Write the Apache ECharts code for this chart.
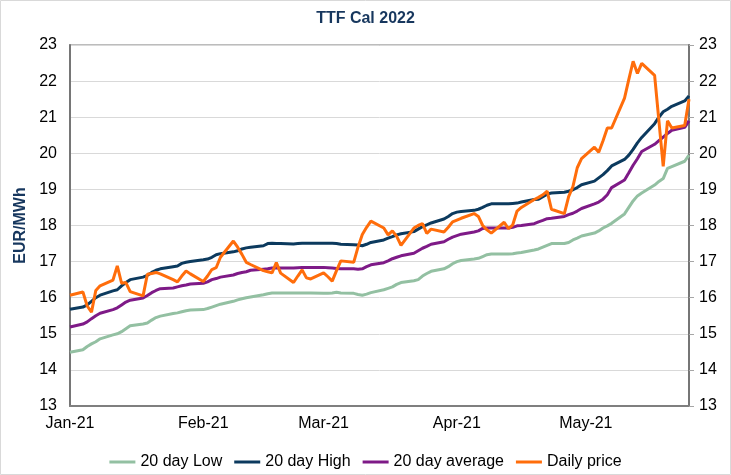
<!DOCTYPE html>
<html>
<head>
<meta charset="utf-8">
<script src="https://cdn.jsdelivr.net/npm/echarts@6/dist/echarts.min.js"></script>
<style>
  html, body { margin: 0; padding: 0; background: #fff; }
  #chart { width: 731px; height: 475px; }
</style>
</head>
<body>
<div id="chart"></div>
<script>
var dates = [
  '2021-01-01',
  '2021-01-04', '2021-01-05', '2021-01-06', '2021-01-07', '2021-01-08',
  '2021-01-11', '2021-01-12', '2021-01-13', '2021-01-14', '2021-01-15',
  '2021-01-18', '2021-01-19', '2021-01-20', '2021-01-21', '2021-01-22',
  '2021-01-25', '2021-01-26', '2021-01-27', '2021-01-28', '2021-01-29',
  '2021-02-01', '2021-02-02', '2021-02-03', '2021-02-04', '2021-02-05',
  '2021-02-08', '2021-02-09', '2021-02-10', '2021-02-11', '2021-02-12',
  '2021-02-15', '2021-02-16', '2021-02-17', '2021-02-18', '2021-02-19',
  '2021-02-22', '2021-02-23', '2021-02-24', '2021-02-25', '2021-02-26',
  '2021-03-01', '2021-03-02', '2021-03-03', '2021-03-04', '2021-03-05',
  '2021-03-08', '2021-03-09', '2021-03-10', '2021-03-11', '2021-03-12',
  '2021-03-15', '2021-03-16', '2021-03-17', '2021-03-18', '2021-03-19',
  '2021-03-22', '2021-03-23', '2021-03-24', '2021-03-25', '2021-03-26',
  '2021-03-29', '2021-03-30', '2021-03-31', '2021-04-01', '2021-04-02',
  '2021-04-05', '2021-04-06', '2021-04-07', '2021-04-08', '2021-04-09',
  '2021-04-12', '2021-04-13', '2021-04-14', '2021-04-15', '2021-04-16',
  '2021-04-19', '2021-04-20', '2021-04-21', '2021-04-22', '2021-04-23',
  '2021-04-26', '2021-04-27', '2021-04-28', '2021-04-29', '2021-04-30',
  '2021-05-03', '2021-05-04', '2021-05-05', '2021-05-06', '2021-05-07',
  '2021-05-10', '2021-05-11', '2021-05-12', '2021-05-13', '2021-05-14',
  '2021-05-17', '2021-05-18', '2021-05-19', '2021-05-20', '2021-05-21',
  '2021-05-24', '2021-05-25'
]

var low20 = [
  14.49,
  14.56, 14.65, 14.72, 14.78, 14.86,
  14.97, 15.00, 15.06, 15.14, 15.22,
  15.27, 15.30, 15.38, 15.45, 15.49,
  15.56, 15.58, 15.61, 15.64, 15.66,
  15.67, 15.70, 15.74, 15.78, 15.82,
  15.90, 15.94, 15.97, 16.00, 16.02,
  16.08, 16.11, 16.13, 16.13, 16.13,
  16.13, 16.13, 16.13, 16.13, 16.13,
  16.12, 16.12, 16.13, 16.15, 16.13,
  16.12, 16.09, 16.07, 16.10, 16.14,
  16.22, 16.26, 16.30, 16.37, 16.42,
  16.47, 16.50, 16.60, 16.67, 16.73,
  16.80, 16.86, 16.94, 17.00, 17.03,
  17.07, 17.09, 17.14, 17.19, 17.21,
  17.21, 17.21, 17.22, 17.24, 17.25,
  17.32, 17.35, 17.40, 17.45, 17.50,
  17.50, 17.53, 17.60, 17.65, 17.71,
  17.79, 17.85, 17.93, 17.99, 18.06,
  18.32, 18.50, 18.68, 18.82, 18.90,
  19.12, 19.22, 19.30, 19.58, 19.63,
  19.78, 19.95
]

var high20 = [
  15.68,
  15.74, 15.80, 15.90, 16.00, 16.07,
  16.19, 16.22, 16.33, 16.42, 16.50,
  16.57, 16.62, 16.70, 16.76, 16.80,
  16.86, 16.88, 16.95, 16.98, 17.00,
  17.05, 17.07, 17.12, 17.19, 17.22,
  17.27, 17.30, 17.35, 17.38, 17.40,
  17.44, 17.50, 17.51, 17.50, 17.50,
  17.49, 17.50, 17.51, 17.51, 17.51,
  17.51, 17.51, 17.51, 17.50, 17.48,
  17.47, 17.46, 17.44, 17.48, 17.53,
  17.60, 17.65, 17.69, 17.74, 17.77,
  17.83, 17.90, 17.97, 18.02, 18.07,
  18.18, 18.25, 18.33, 18.37, 18.39,
  18.42, 18.45, 18.50, 18.56, 18.60,
  18.60, 18.60, 18.61, 18.62, 18.65,
  18.72, 18.73, 18.80, 18.87, 18.90,
  18.92, 18.95, 18.99, 19.05, 19.13,
  19.23, 19.32, 19.41, 19.52, 19.65,
  19.83, 19.95, 20.11, 20.29, 20.44,
  20.82, 21.00, 21.15, 21.22, 21.30,
  21.45, 21.59
]

var avg20 = [
  15.19,
  15.27, 15.33, 15.42, 15.50, 15.57,
  15.67, 15.72, 15.80, 15.88, 15.93,
  15.99, 16.06, 16.14, 16.20, 16.25,
  16.27, 16.30, 16.33, 16.35, 16.38,
  16.40, 16.44, 16.50, 16.53, 16.57,
  16.63, 16.67, 16.70, 16.72, 16.76,
  16.79, 16.80, 16.82, 16.82, 16.82,
  16.82, 16.83, 16.84, 16.84, 16.84,
  16.84, 16.83, 16.82, 16.81, 16.80,
  16.80, 16.79, 16.80, 16.86, 16.91,
  16.97, 17.02, 17.08, 17.12, 17.16,
  17.23, 17.30, 17.37, 17.42, 17.48,
  17.55, 17.62, 17.68, 17.72, 17.76,
  17.82, 17.85, 17.92, 17.93, 17.93,
  17.93, 17.93, 17.95, 17.99, 18.00,
  18.05, 18.10, 18.14, 18.19, 18.20,
  18.25, 18.30, 18.34, 18.40, 18.47,
  18.60, 18.65, 18.73, 18.85, 19.05,
  19.26, 19.46, 19.67, 19.85, 20.05,
  20.25, 20.35, 20.45, 20.55, 20.64,
  20.72, 20.90
]

var dailyPrice = [
  16.07,
  16.16, 15.77, 15.60, 16.20, 16.33,
  16.49, 16.88, 16.40, 16.42, 16.17,
  16.05, 16.65, 16.67, 16.70, 16.66,
  16.50, 16.44, 16.60, 16.74, 16.66,
  16.45, 16.60, 16.78, 16.83, 17.12,
  17.57, 17.40, 17.20, 16.98, 16.92,
  16.75, 16.72, 16.69, 16.97, 16.68,
  16.42, 16.60, 16.77, 16.55, 16.52,
  16.69, 16.58, 16.46, 16.75, 17.02,
  16.98, 17.40, 17.75, 17.95, 18.12,
  17.93, 17.74, 17.85, 17.70, 17.45,
  17.93, 18.00, 18.05, 17.78, 17.90,
  17.82, 17.95, 18.10, 18.15, 18.20,
  18.33, 18.25, 18.00, 17.88, 17.79,
  18.09, 17.91, 18.02, 18.40, 18.50,
  18.72, 18.78, 18.85, 18.95, 18.45,
  18.33, 18.80, 19.08, 19.60, 19.85,
  20.17, 20.03, 20.35, 20.70, 20.70,
  21.53, 22.05, 22.55, 22.21, 22.49,
  22.16, 20.90, 19.64, 20.90, 20.70,
  20.77, 21.50
]

var monthLabels = ['2021-01-01', '2021-02-01', '2021-03-01', '2021-04-01', '2021-05-01']
var seriesNames = ['20 day Low', '20 day High', '20 day average', 'Daily price']
var seriesColors = ['#93c0a2', '#0c3a5e', '#7e1a87', '#ff6d0b']
var monthNames = ['Jan', 'Feb', 'Mar', 'Apr', 'May', 'Jun', 'Jul', 'Aug', 'Sep', 'Oct', 'Nov', 'Dec']

function toTime (s) {
  var p = s.split('-')
  return Date.UTC(+p[0], +p[1] - 1, +p[2])
}

function pairs (values) {
  return dates.map(function (d, i) {
    return [toTime(d), values[i]]
  })
}

var font = 'Liberation Sans, Arial, sans-serif'
var navy = '#17375e'

var chart = echarts.init(document.getElementById('chart'), null, {renderer: 'canvas'})

var option = {
  animation: false,
  textStyle: {fontFamily: font},
  color: seriesColors,
  title: {
    text: 'TTF Cal 2022',
    left: 'center',
    top: 11,
    padding: 0,
    textStyle: {fontSize: 16, fontWeight: 'bold', color: navy, fontFamily: font}
  },
  legend: {
    data: seriesNames,
    left: 'center',
    top: 449,
    icon: 'rect',
    itemWidth: 26,
    itemHeight: 3,
    itemGap: 12,
    textStyle: {fontSize: 16, color: '#000', fontFamily: font}
  },
  graphic: [{
    type: 'rect',
    shape: {x: 0.5, y: 0.5, width: 730, height: 474},
    style: {fill: 'none', stroke: '#d9d9d9', lineWidth: 1},
    silent: true
  }],
  grid: {
    left: 70,
    right: 42,
    top: 45,
    bottom: 69,
    show: true,
    borderColor: '#a6a6a6',
    borderWidth: 1.5
  },
  xAxis: {
    type: 'value',
    min: toTime(dates[0]),
    max: toTime(dates[dates.length - 1]),
    axisLine: {show: true, lineStyle: {color: '#7f7f7f', width: 2}},
    axisTick: {show: false},
    splitLine: {show: false},
    axisLabel: {
      customValues: monthLabels.map(toTime),
      margin: 10,
      fontSize: 16,
      color: '#000',
      fontFamily: font,
      formatter: function (val) {
        var d = new Date(val)
        return monthNames[d.getUTCMonth()] + '-' + String(d.getUTCFullYear()).slice(2)
      }
    }
  },
  yAxis: [
    {
      type: 'value',
      position: 'left',
      min: 13,
      max: 23,
      interval: 1,
      name: 'EUR/MWh',
      nameLocation: 'middle',
      nameGap: 40,
      nameTextStyle: {fontSize: 16, fontWeight: 'bold', color: navy, fontFamily: font},
      axisLine: {show: true, lineStyle: {color: '#767676', width: 2}},
      axisTick: {show: false},
      axisLabel: {margin: 13, fontSize: 16, color: '#000', fontFamily: font},
      splitLine: {show: true, lineStyle: {color: '#d9d9d9', width: 1}}
    },
    {
      type: 'value',
      position: 'right',
      min: 13,
      max: 23,
      interval: 1,
      axisLine: {show: true, lineStyle: {color: '#767676', width: 2}},
      axisTick: {show: true, length: 5, lineStyle: {color: '#a6a6a6'}},
      axisLabel: {margin: 10, fontSize: 16, color: '#000', fontFamily: font},
      splitLine: {show: false}
    }
  ],
  series: [
    {name: seriesNames[0], type: 'line', data: pairs(low20)},
    {name: seriesNames[1], type: 'line', data: pairs(high20)},
    {name: seriesNames[2], type: 'line', data: pairs(avg20)},
    {name: seriesNames[3], type: 'line', data: pairs(dailyPrice)}
  ].map(function (s, i) {
    s.showSymbol = false
    s.symbol = 'none'
    s.lineStyle = {width: 3, color: seriesColors[i]}
    s.itemStyle = {color: seriesColors[i]}
    return s
  })
}

chart.setOption(option)
</script>
</body>
</html>
